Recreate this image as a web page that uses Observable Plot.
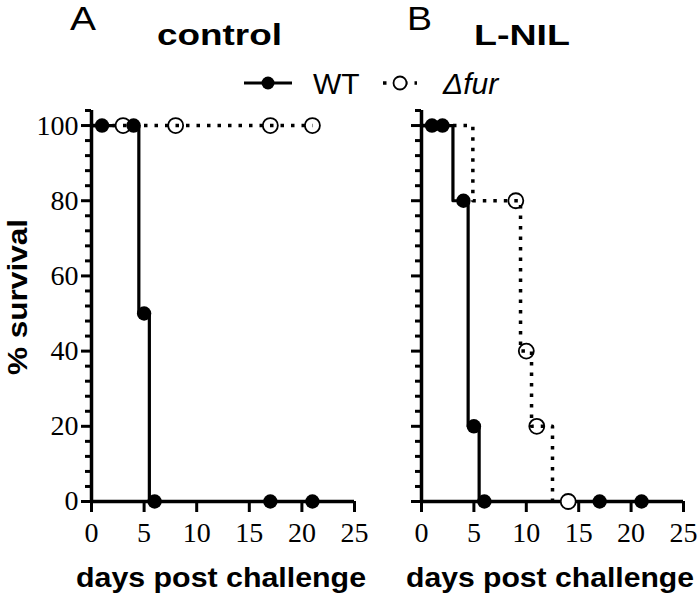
<!DOCTYPE html>
<html>
<head>
<meta charset="utf-8">
<script src="https://cdn.jsdelivr.net/npm/d3@7"></script>
<script src="https://cdn.jsdelivr.net/npm/@observablehq/plot@0.6"></script>
<style>
  html, body { margin: 0; padding: 0; background: white; }
  #chart { position: relative; width: 700px; height: 601px; background: white; overflow: hidden; }
  #chart > svg { position: absolute; left: 0; top: 0; }
</style>
</head>
<body>
<div id="chart"></div>
<script>
// ---- tick labels ----
const xTicks = [0, 5, 10, 15, 20, 25];
const yMajorTicks = [0, 20, 40, 60, 80, 100];
const yMinorTicks = [4, 8, 12, 16, 24, 28, 32, 36, 44, 48, 52, 56, 64, 68, 72, 76, 84, 88, 92, 96, 104];

// ---- panel A: control ----
const controlWTStepDays = [0, 4.5, 5.5];
const controlWTStepSurv = [100, 50, 0];
const controlWTPointDays = [1, 4, 5, 6, 17, 21];
const controlWTPointSurv = [100, 100, 50, 0, 0, 0];
const controlFurStepDays = [0, 21];
const controlFurStepSurv = [100, 100];
const controlFurPointDays = [3, 8, 17, 21];
const controlFurPointSurv = [100, 100, 100, 100];

// ---- panel B: L-NIL ----
const lnilWTStepDays = [0, 3, 4.45, 5.5];
const lnilWTStepSurv = [100, 80, 20, 0];
const lnilWTPointDays = [1, 2, 4, 5, 6, 17, 21];
const lnilWTPointSurv = [100, 100, 80, 20, 0, 0, 0];
const lnilFurStepDays = [0, 4.9, 9.45, 10.5, 12.5];
const lnilFurStepSurv = [100, 80, 40, 20, 0];
const lnilFurPointDays = [9, 10, 11, 14];
const lnilFurPointSurv = [80, 40, 20, 0];

const zip = (xs, ys) => xs.map((x, i) => ({day: x, surv: ys[i]}));
const SERIF = "Liberation Serif";

function panel(opts) {
  const {mLeft, mRight, showYLabels, wtStep, wtPts, furStep, furPts} = opts;
  const axes = [
    Plot.axisX({ticks: xTicks, tickSize: 11, tickPadding: 10, strokeWidth: 3, label: null,
                fontFamily: SERIF, fontSize: 28, tickFormat: d => String(d)}),
    showYLabels
      ? Plot.axisY({ticks: yMajorTicks, tickSize: 10, tickPadding: 3, strokeWidth: 3, label: null,
                    fontFamily: SERIF, fontSize: 28, tickFormat: d => String(d)})
      : Plot.axisY({ticks: yMajorTicks, tickSize: 10, strokeWidth: 3, text: null, label: null}),
    Plot.axisY({ticks: yMinorTicks, tickSize: 6, strokeWidth: 3, text: null, label: null})
  ];
  const svg = Plot.plot({
    width: 700,
    height: 601,
    marginLeft: mLeft,
    marginRight: mRight,
    marginTop: 110,
    marginBottom: 100,
    x: {domain: [0, 25]},
    y: {domain: [0, 104]},
    style: {fontFamily: SERIF, fontSize: "28px", color: "black", background: "transparent", overflow: "visible"},
    marks: [
      ...axes,
      Plot.ruleX([0], {y1: 0, y2: 104, strokeWidth: 3.5}),
      Plot.ruleY([0], {x1: 0, x2: 25, strokeWidth: 3.5}),
      Plot.line(wtStep, {x: "day", y: "surv", curve: "step-after", stroke: "black", strokeWidth: 3.2}),
      Plot.dot(furPts, {x: "day", y: "surv", r: 7.5, fill: "white", stroke: "black", strokeWidth: 1.8}),
      Plot.line(furStep, {x: "day", y: "surv", curve: "step-after", stroke: "black", strokeWidth: 3.5, strokeDasharray: "3.5,7", strokeLinecap: "butt"}),
      Plot.dot(wtPts, {x: "day", y: "surv", r: 7.2, fill: "black", stroke: "none"})
    ]
  });
  svg.querySelectorAll("text").forEach(t => { t.style.fontFamily = "'Liberation Serif'"; });
  return svg;
}

const chart = document.getElementById("chart");

chart.appendChild(panel({
  mLeft: 91, mRight: 700 - 354, showYLabels: true,
  wtStep: zip(controlWTStepDays, controlWTStepSurv),
  wtPts: zip(controlWTPointDays, controlWTPointSurv),
  furStep: zip(controlFurStepDays, controlFurStepSurv),
  furPts: zip(controlFurPointDays, controlFurPointSurv)
}));

chart.appendChild(panel({
  mLeft: 421, mRight: 700 - 683, showYLabels: false,
  wtStep: zip(lnilWTStepDays, lnilWTStepSurv),
  wtPts: zip(lnilWTPointDays, lnilWTPointSurv),
  furStep: zip(lnilFurStepDays, lnilFurStepSurv),
  furPts: zip(lnilFurPointDays, lnilFurPointSurv)
}));

// ---- overlay: titles, legend, axis titles ----
const ns = "http://www.w3.org/2000/svg";
const ov = document.createElementNS(ns, "svg");
ov.setAttribute("width", 700);
ov.setAttribute("height", 601);
function el(tag, attrs, text) {
  const e = document.createElementNS(ns, tag);
  for (const k in attrs) e.setAttribute(k, attrs[k]);
  if (text != null) {
    e.textContent = text;
    e.style.fontFamily = "'Liberation Sans'";
  }
  ov.appendChild(e);
  return e;
}
el("text", {x: 70, y: 30, "font-size": 34, textLength: 26, lengthAdjust: "spacingAndGlyphs"}, "A");
el("text", {x: 157, y: 45, "font-size": 30, "font-weight": "bold", textLength: 125, lengthAdjust: "spacingAndGlyphs"}, "control");
el("text", {x: 407, y: 30, "font-size": 34, textLength: 25, lengthAdjust: "spacingAndGlyphs"}, "B");
el("text", {x: 474, y: 45, "font-size": 30, "font-weight": "bold", textLength: 96, lengthAdjust: "spacingAndGlyphs"}, "L-NIL");

// legend
el("line", {x1: 244, x2: 292, y1: 83, y2: 83, stroke: "black", "stroke-width": 3.2});
el("circle", {cx: 268, cy: 83, r: 6.5, fill: "black"});
el("text", {x: 313, y: 94, "font-size": 30}, "WT");
el("line", {x1: 383, x2: 417, y1: 83, y2: 83, stroke: "black", "stroke-width": 3.5, "stroke-dasharray": "3.5,7"});
el("circle", {cx: 400, cy: 83, r: 6.5, fill: "white", stroke: "black", "stroke-width": 1.8});
el("text", {x: 443, y: 94, "font-size": 30, "font-style": "italic"}, "Δfur");

// axis titles
el("text", {x: 0, y: 0, "font-size": 28, "font-weight": "bold", "text-anchor": "middle",
            transform: "translate(27,297) rotate(-90)", textLength: 156, lengthAdjust: "spacingAndGlyphs"}, "% survival");
el("text", {x: 221, y: 587, "font-size": 28, "font-weight": "bold", "text-anchor": "middle", textLength: 290, lengthAdjust: "spacingAndGlyphs"}, "days post challenge");
el("text", {x: 550, y: 587, "font-size": 28, "font-weight": "bold", "text-anchor": "middle", textLength: 288, lengthAdjust: "spacingAndGlyphs"}, "days post challenge");
chart.appendChild(ov);
</script>
</body>
</html>
